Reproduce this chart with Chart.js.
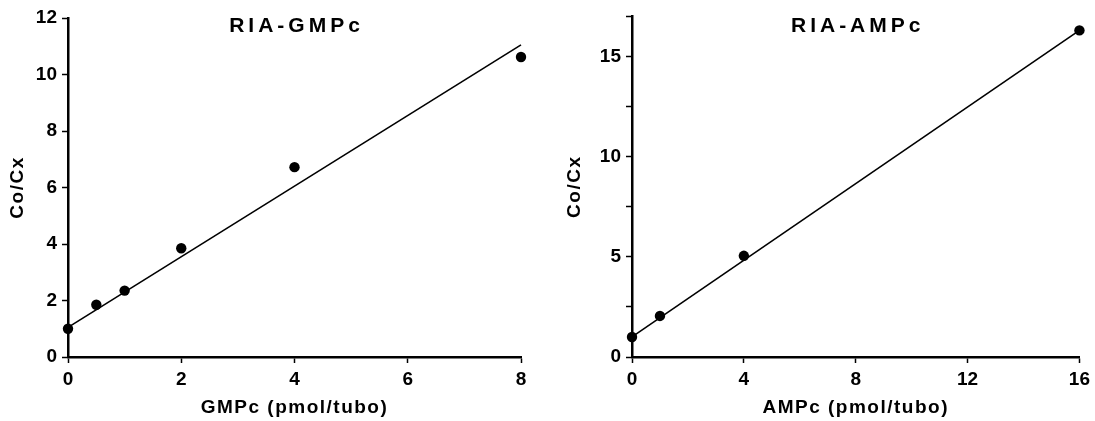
<!DOCTYPE html>
<html>
<head>
<meta charset="utf-8">
<script src="https://cdn.jsdelivr.net/npm/chart.js@4.4.0/dist/chart.umd.min.js"></script>
<style>
  body { margin: 0; background: #fff; width: 1095px; height: 421px; overflow: hidden; position: relative; }
  canvas { position: absolute; top: 0; }
  #gmpChart { left: 0; }
  #ampChart { left: 545px; }
</style>
</head>
<body>
<canvas id="gmpChart" width="545" height="421"></canvas>
<canvas id="ampChart" width="550" height="421"></canvas>
<script>
// RIA-GMPc standard curve
const gmpDose = [0, 0.5, 1, 2, 4, 8];
const gmpRatio = [1.0, 1.85, 2.35, 3.85, 6.72, 10.62];
const gmpFitX = [0, 8];
const gmpFitY = [1.05, 11.05];

// RIA-AMPc standard curve
const ampDose = [0, 1, 4, 16];
const ampRatio = [1.0, 2.05, 5.05, 16.3];
const ampFitX = [0, 16];
const ampFitY = [1.0, 16.3];

const FONT = "'Liberation Sans', Arial, Helvetica, sans-serif";

const toPoints = (xs, ys) => xs.map((x, i) => ({ x: x, y: ys[i] }));

// titles drawn inside the panel, with the wide letter spacing of the original
const panelText = {
  id: "panelText",
  afterDraw(chart, args, opts) {
    const { ctx, chartArea } = chart;
    const cx = (chartArea.left + chartArea.right) / 2;
    const cy = (chartArea.top + chartArea.bottom) / 2;
    ctx.save();
    ctx.fillStyle = "#000";
    ctx.textAlign = "center";
    ctx.textBaseline = "middle";

    ctx.font = "bold 21px " + FONT;
    ctx.letterSpacing = "4px";
    ctx.fillText(opts.title, cx + 2, 26);

    ctx.font = "bold 19px " + FONT;
    ctx.letterSpacing = "1.5px";
    ctx.fillText(opts.xTitle, cx, 408);

    ctx.translate(opts.yTitleX, cy);
    ctx.rotate(-Math.PI / 2);
    ctx.fillText(opts.yTitle, 0, 0);
    ctx.restore();
  },
};

function axisOpts(min, max, step, size) {
  return {
    type: "linear",
    min: min,
    max: max,
    border: { display: true, color: "#000", width: 2.5 },
    grid: {
      drawOnChartArea: false,
      drawTicks: true,
      tickLength: 6,
      tickColor: "#000",
      tickWidth: 1.5,
    },
    ticks: {
      stepSize: step,
      autoSkip: false,
      maxRotation: 0,
      color: "#000",
      padding: 5,
      font: { family: FONT, size: 19, weight: "bold" },
    },
    afterFit: size,
  };
}

function makeChart(id, pts, fit, opts) {
  return new Chart(document.getElementById(id), {
    type: "scatter",
    data: {
      datasets: [
        {
          data: fit,
          showLine: true,
          borderColor: "#000",
          borderWidth: 1.6,
          pointRadius: 0,
          clip: false,
        },
        {
          data: pts,
          showLine: false,
          pointRadius: 5.2,
          pointBackgroundColor: "#000",
          pointBorderColor: "#000",
          borderWidth: 0,
          clip: false,
        },
      ],
    },
    options: {
      responsive: false,
      animation: false,
      devicePixelRatio: 1,
      layout: { padding: opts.padding },
      plugins: {
        legend: { display: false },
        tooltip: { enabled: false },
        panelText: opts.text,
      },
      scales: opts.scales,
    },
    plugins: [panelText],
  });
}

makeChart("gmpChart", toPoints(gmpDose, gmpRatio), toPoints(gmpFitX, gmpFitY), {
  padding: { left: 0, right: 24, top: 18, bottom: 0 },
  text: { title: "RIA-GMPc", xTitle: "GMPc (pmol/tubo)", yTitle: "Co/Cx", yTitleX: 18 },
  scales: {
    x: axisOpts(0, 8, 2, (s) => { s.height = 64; }),
    y: axisOpts(0, 12, 2, (s) => { s.width = 68; }),
  },
});

makeChart("ampChart", toPoints(ampDose, ampRatio), toPoints(ampFitX, ampFitY), {
  padding: { left: 0, right: 13, top: 16, bottom: 0 },
  text: { title: "RIA-AMPc", xTitle: "AMPc (pmol/tubo)", yTitle: "Co/Cx", yTitleX: 30 },
  scales: {
    x: axisOpts(0, 16, 4, (s) => { s.height = 64; }),
    y: axisOpts(0, 17, 2.5, (s) => { s.width = 87; }),
  },
});

// right panel: minor ticks every 2.5, labels only on multiples of 5
Chart.getChart("ampChart").options.scales.y.ticks.callback = (v) => (v % 5 === 0 ? v : "");
Chart.getChart("ampChart").update();
</script>
</body>
</html>
